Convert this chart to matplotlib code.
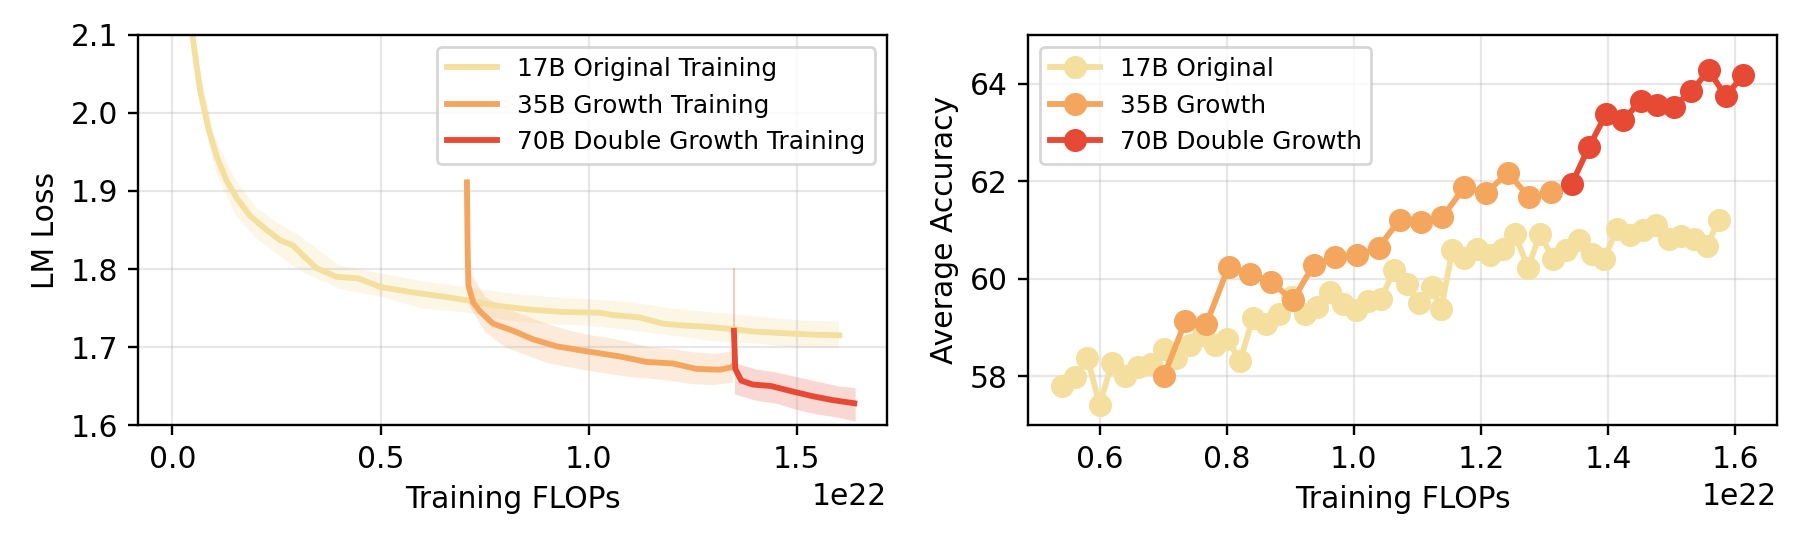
import matplotlib
matplotlib.use("Agg")
import matplotlib.pyplot as plt
from matplotlib.ticker import MultipleLocator
import numpy as np

plt.rcParams["font.size"] = 10.7
plt.rcParams["axes.linewidth"] = 0.85
plt.rcParams["xtick.major.width"] = 0.85
plt.rcParams["ytick.major.width"] = 0.85
plt.rcParams["xtick.major.size"] = 3.7
plt.rcParams["ytick.major.size"] = 3.7

# ---------------- colours ----------------
C17 = "#F5DF9F"
C35 = "#F4A55E"
C70 = "#E64A35"

# ---------------- left panel: LM loss (x in 1e22 FLOPs) ----------------
loss17_x = [0.048, 0.0665, 0.0864, 0.1065, 0.1305, 0.1545, 0.1865, 0.2265, 0.2585, 0.29,
            0.3145, 0.3465, 0.3945, 0.4465, 0.4985, 0.578, 0.6585, 0.7065, 0.7785, 0.858,
            0.938, 1.026, 1.058, 1.122, 1.178, 1.218, 1.2825, 1.346, 1.394, 1.458, 1.538, 1.602]
loss17_y = [2.10, 2.029, 1.980, 1.944, 1.913, 1.891, 1.868, 1.850, 1.837, 1.830,
            1.817, 1.801, 1.790, 1.788, 1.777, 1.770, 1.764, 1.760, 1.753, 1.748,
            1.745, 1.744, 1.741, 1.738, 1.730, 1.728, 1.726, 1.723, 1.720, 1.718, 1.716, 1.715]

loss35_x = [0.7075, 0.709, 0.711, 0.7225, 0.7385, 0.770, 0.818, 0.866, 0.9225, 0.978,
            1.026, 1.0745, 1.1385, 1.202, 1.2585, 1.3145, 1.3425, 1.348]
loss35_y = [1.911, 1.833, 1.779, 1.757, 1.746, 1.730, 1.721, 1.710, 1.701, 1.696,
            1.692, 1.688, 1.681, 1.679, 1.672, 1.671, 1.674, 1.677]

loss70_x = [1.3488, 1.352, 1.3665, 1.394, 1.4385, 1.490, 1.538, 1.586, 1.638]
loss70_y = [1.721, 1.672, 1.657, 1.652, 1.650, 1.643, 1.637, 1.632, 1.628]

# raw-noise envelopes
band17_x = [0.06, 0.10, 0.15, 0.20, 0.25, 0.30, 0.40, 0.50, 0.60, 0.70, 0.80, 0.90, 1.00,
            1.10, 1.20, 1.30, 1.40, 1.50, 1.60]
band17_hi = [2.07, 1.97, 1.915, 1.88, 1.86, 1.845, 1.805, 1.795, 1.785, 1.778, 1.77, 1.765,
             1.762, 1.758, 1.75, 1.745, 1.74, 1.735, 1.733]
band17_lo = [2.03, 1.93, 1.87, 1.84, 1.82, 1.80, 1.775, 1.765, 1.75, 1.745, 1.735, 1.73,
             1.728, 1.722, 1.715, 1.708, 1.705, 1.70, 1.70]

band35_x = [0.71, 0.75, 0.80, 0.85, 0.90, 0.95, 1.00, 1.05, 1.10, 1.15, 1.20, 1.25, 1.30, 1.345]
band35_hi = [1.80, 1.765, 1.75, 1.74, 1.73, 1.722, 1.716, 1.712, 1.706, 1.70, 1.698, 1.694, 1.692, 1.695]
band35_lo = [1.755, 1.72, 1.70, 1.69, 1.68, 1.675, 1.67, 1.666, 1.662, 1.66, 1.657, 1.653, 1.652, 1.655]

band70_x = [1.35, 1.40, 1.45, 1.50, 1.55, 1.60, 1.64]
band70_hi = [1.68, 1.672, 1.668, 1.662, 1.656, 1.65, 1.648]
band70_lo = [1.64, 1.632, 1.628, 1.62, 1.614, 1.61, 1.605]

spike70_x = [1.349, 1.349]
spike70_y = [1.72, 1.80]

# ---------------- right panel: average accuracy ----------------
acc17_x = [0.541, 0.561, 0.581, 0.600, 0.620, 0.640, 0.660, 0.681, 0.701, 0.721, 0.742, 0.762,
           0.781, 0.801, 0.821, 0.841, 0.862, 0.882, 0.902, 0.923, 0.942, 0.963, 0.983, 1.003,
           1.022, 1.043, 1.063, 1.083, 1.103, 1.123, 1.137, 1.155, 1.174, 1.194, 1.214, 1.234,
           1.253, 1.274, 1.293, 1.313, 1.334, 1.354, 1.375, 1.394, 1.414, 1.435, 1.455, 1.475,
           1.496, 1.515, 1.535, 1.555, 1.575]
acc17_y = [57.80, 57.99, 58.38, 57.42, 58.28, 58.00, 58.19, 58.26, 58.57, 58.38, 58.64, 58.85,
           58.64, 58.77, 58.31, 59.19, 59.08, 59.28, 59.62, 59.28, 59.42, 59.73, 59.49, 59.35,
           59.54, 59.59, 60.17, 59.90, 59.50, 59.83, 59.37, 60.58, 60.43, 60.62, 60.48, 60.62,
           60.92, 60.23, 60.92, 60.41, 60.58, 60.80, 60.51, 60.41, 61.03, 60.89, 60.99, 61.11,
           60.82, 60.87, 60.82, 60.68, 61.21]

acc35_x = [0.701, 0.735, 0.768, 0.803, 0.836, 0.870, 0.904, 0.937, 0.971, 1.005, 1.039, 1.072,
           1.106, 1.139, 1.174, 1.208, 1.242, 1.276, 1.310]
acc35_y = [58.00, 59.13, 59.07, 60.25, 60.10, 59.93, 59.56, 60.29, 60.45, 60.48, 60.64, 61.21,
           61.16, 61.26, 61.88, 61.76, 62.17, 61.67, 61.78]

acc70_x = [1.343, 1.370, 1.397, 1.423, 1.451, 1.477, 1.503, 1.531, 1.558, 1.585, 1.612]
acc70_y = [61.95, 62.71, 63.38, 63.25, 63.64, 63.57, 63.53, 63.84, 64.28, 63.74, 64.17]

labels_loss = ["17B Original Training", "35B Growth Training", "70B Double Growth Training"]
labels_acc = ["17B Original", "35B Growth", "70B Double Growth"]

S = 1e22


def sc(a):
    return np.asarray(a) * S


fig = plt.figure(figsize=(9, 2.725), dpi=200)
ax1 = fig.add_axes([0.0768, 0.220, 0.4161, 0.716])
ax2 = fig.add_axes([0.5711, 0.220, 0.4161, 0.716])

LW = 2.1
MS = 7.3

# ---- left
ax1.fill_between(sc(band17_x), band17_lo, band17_hi, color=C17, alpha=0.25, lw=0)
ax1.fill_between(sc(band35_x), band35_lo, band35_hi, color=C35, alpha=0.22, lw=0)
ax1.fill_between(sc(band70_x), band70_lo, band70_hi, color=C70, alpha=0.22, lw=0)
ax1.plot(sc(spike70_x), spike70_y, color=C70, alpha=0.35, lw=0.6)
ax1.plot(sc(loss17_x), loss17_y, color=C17, lw=LW, label=labels_loss[0])
ax1.plot(sc(loss35_x), loss35_y, color=C35, lw=LW, label=labels_loss[1])
ax1.plot(sc(loss70_x), loss70_y, color=C70, lw=LW, label=labels_loss[2])
ax1.set_xlim(-0.082 * S, 1.717 * S)
ax1.set_ylim(1.6, 2.1)
ax1.xaxis.set_major_locator(MultipleLocator(0.5 * S))
ax1.set_xlabel("Training FLOPs")
ax1.set_ylabel("LM Loss")
ax1.grid(True, alpha=0.3)
ax1.legend(loc="upper right", fontsize="small")

# ---- right
ax2.plot(sc(acc17_x), acc17_y, "-o", color=C17, lw=LW, ms=MS, label=labels_acc[0])
ax2.plot(sc(acc35_x), acc35_y, "-o", color=C35, lw=LW, ms=MS, label=labels_acc[1])
ax2.plot(sc(acc70_x), acc70_y, "-o", color=C70, lw=LW, ms=MS, label=labels_acc[2])
ax2.set_ylim(57, 65)
ax2.set_xlabel("Training FLOPs")
ax2.set_ylabel("Average Accuracy")
ax2.grid(True, alpha=0.3)
ax2.legend(loc="upper left", fontsize="small")

fig.savefig("out.png", dpi=200)
